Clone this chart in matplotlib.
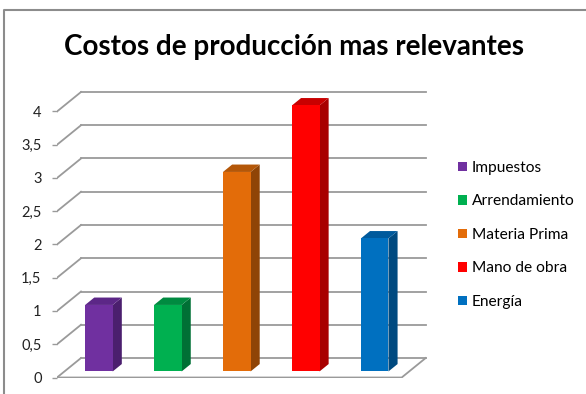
import matplotlib
matplotlib.use("Agg")
import matplotlib.pyplot as plt
import numpy as np

categorias = ["Impuestos", "Arrendamiento", "Materia Prima", "Mano de obra", "Energía"]
valores = [1, 1, 3, 4, 2]
frente = ["#7030A0", "#00B050", "#E36C09", "#FF0000", "#0070C0"]
lateral = ["#4B1F6E", "#007035", "#8F4406", "#A80000", "#004A80"]
tapa = ["#5C2787", "#008A40", "#B45708", "#C80000", "#005A9C"]
ticks = np.arange(0, 4.01, 0.5)

W, H = 586, 394
plt.rcParams["font.family"] = ["Lato", "DejaVu Sans"]
fig = plt.figure(figsize=(W / 100, H / 100), dpi=100)

# pixels per unit on each axis
ux, uy = 68.94, 66.5
left, base, ancho, alto = 57, 377.5, 373, 292.6
ax = fig.add_axes([left / W, (H - base) / H, ancho / W, alto / H])
ax.set_xlim(0, ancho / ux)
ax.set_ylim(0, alto / uy)
for s in ax.spines.values():
    s.set_visible(False)
ax.set_xticks([])

# depth of the box, in data units
dx, dy = 24 / ux, 19.5 / uy
gris = "#9a9a9a"
n = len(categorias)

# back wall and side wall grid
for v in ticks:
    ax.plot([dx, n + dx], [v + dy, v + dy], color=gris, lw=1.3, zorder=1)
    ax.plot([0, dx], [v, v + dy], color=gris, lw=1.3, zorder=1)
# floor edges
ax.plot([0, n, n + dx], [0, 0, dy], color=gris, lw=1.3, zorder=1)

# bars: front face sits 31% into the depth, bar depth 38%
f0, fd = 0.31, 0.38
w = 0.4
xs = np.arange(n) + 0.5 + f0 * dx
barras = ax.bar(xs, valores, width=w, bottom=f0 * dy, color=frente, zorder=3)
bx, by = fd * dx, fd * dy
for i, v in enumerate(valores):
    x0, x1 = xs[i] - w / 2, xs[i] + w / 2
    y0, y1 = f0 * dy, f0 * dy + v
    ax.fill([x1, x1 + bx, x1 + bx, x1], [y0, y0 + by, y1 + by, y1],
            color=lateral[i], zorder=2, lw=0)
    ax.fill([x0, x1, x1 + bx, x0 + bx], [y1, y1, y1 + by, y1 + by],
            color=tapa[i], zorder=2, lw=0)

ax.set_yticks(ticks)
ax.set_yticklabels([f"{t:g}".replace(".", ",") for t in ticks])
ax.tick_params(axis="y", length=3.6, width=1, color=gris, pad=7.5,
               labelsize=10.5, labelcolor="#222222")

ax.legend(barras.patches, categorias, loc="upper left",
          bbox_to_anchor=((458 - left) / ancho, (base - 161) / alto),
          frameon=False, fontsize=11.2, handlelength=0.55, handleheight=0.55,
          handletextpad=0.33, labelspacing=1.25, borderpad=0, borderaxespad=0)

fig.text(294 / W, 1 - 55 / H, "Costos de producción mas relevantes",
         ha="center", va="baseline", fontsize=20, fontweight="bold")

# chart area border
fig.add_artist(plt.Line2D([3.5 / W, 3.5 / W, 1], [0, 1 - 9.5 / H, 1 - 9.5 / H],
                          transform=fig.transFigure, color="#8c8c8c", lw=1.5))

fig.savefig("out.png", dpi=100)
